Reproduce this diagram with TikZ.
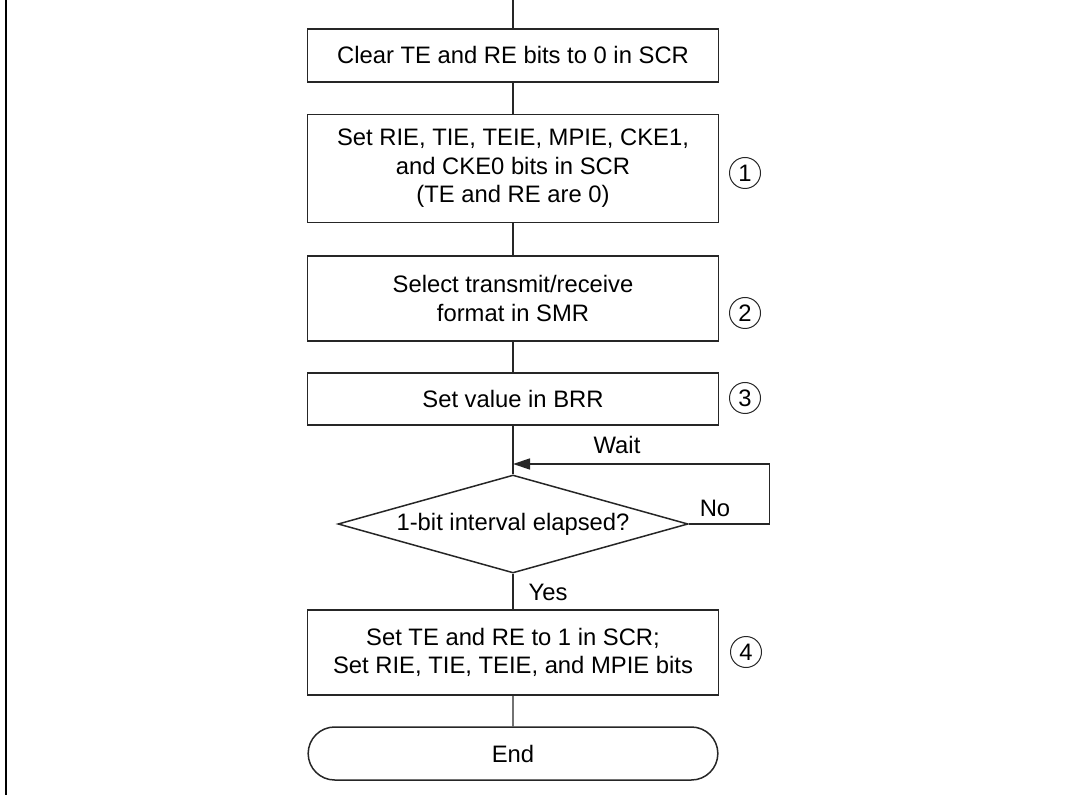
\documentclass[tikz,border=0pt]{standalone}
\usepackage{fontspec}
\setmainfont{Liberation Sans}
\usetikzlibrary{shapes.geometric,shapes.misc,arrows.meta}

\begin{document}
\begin{tikzpicture}[
    x=0.5pt,
    y=-0.5pt,
    every node/.style={font=\fontsize{11.9}{14.2}\selectfont},
    procbox/.style={draw=black!85,line width=0.75pt,minimum width=205.5pt,align=center,inner sep=0pt},
    decision/.style={draw=black!85,line width=0.75pt,diamond,aspect=3.57,minimum width=175pt,minimum height=49pt,inner sep=0pt},
    terminal/.style={draw=black!85,line width=0.75pt,rounded rectangle,minimum width=211.5pt,minimum height=26.5pt},
    stepnum/.style={draw=black!85,line width=0.5pt,circle,minimum size=15.5pt,inner sep=0pt},
    flow/.style={draw=black!85,line width=0.7pt},
    waitarrow/.style={flow,-{Triangle[length=8.5pt,width=5.5pt]}}
]
\useasboundingbox (0,0) rectangle (1068,795);

% Frame edge on the left.
\draw[line width=1pt] (5.5,0) -- (5.5,795);

% Process steps.
\coordinate (entry) at (513,0);
\node[procbox,minimum height=26.5pt] (clear) at (513,55.5) {Clear TE and RE bits to 0 in SCR};
\node[procbox,minimum height=54pt] (setbits) at (513,168.5)
    {Set RIE, TIE, TEIE, MPIE, CKE1,\\and CKE0 bits in SCR\\(TE and RE are 0)};
\node[procbox,minimum height=42.5pt] (smr) at (513,298.5) {Select transmit/receive\\format in SMR};
\node[procbox,minimum height=26pt] (brr) at (513,399) {Set value in BRR};
\node[decision] (elapsed) at (513,524) {1-bit interval elapsed?};
\node[procbox,minimum height=42.5pt] (enable) at (513,652.5)
    {Set TE and RE to 1 in SCR;\\Set RIE, TIE, TEIE, and MPIE bits};
\node[terminal] (finish) at (513,753.5) {End};

% Step numbers.
\node[stepnum] (num1) at (745,173) {1};
\node[stepnum] (num2) at (745,313) {2};
\node[stepnum] (num3) at (745,398) {3};
\node[stepnum] (num4) at (746,652) {4};

% Flow lines.
\draw[flow] (entry) -- (clear);
\draw[flow] (clear) -- (setbits);
\draw[flow] (setbits) -- (smr);
\draw[flow] (smr) -- (brr);
\draw[flow] (brr) -- (elapsed);
\draw[flow] (elapsed) -- (enable);
\draw[flow] (enable) -- (finish);

% Wait loop.
\coordinate (waitjoin) at (513,464);
\draw[waitarrow] (elapsed.east) -- ++(81,0) |- (waitjoin);
\node (waitlbl) at (617,445) {Wait};
\node (nolbl) at (715,508) {No};
\node (yeslbl) at (548,592) {Yes};

\end{tikzpicture}
\end{document}
